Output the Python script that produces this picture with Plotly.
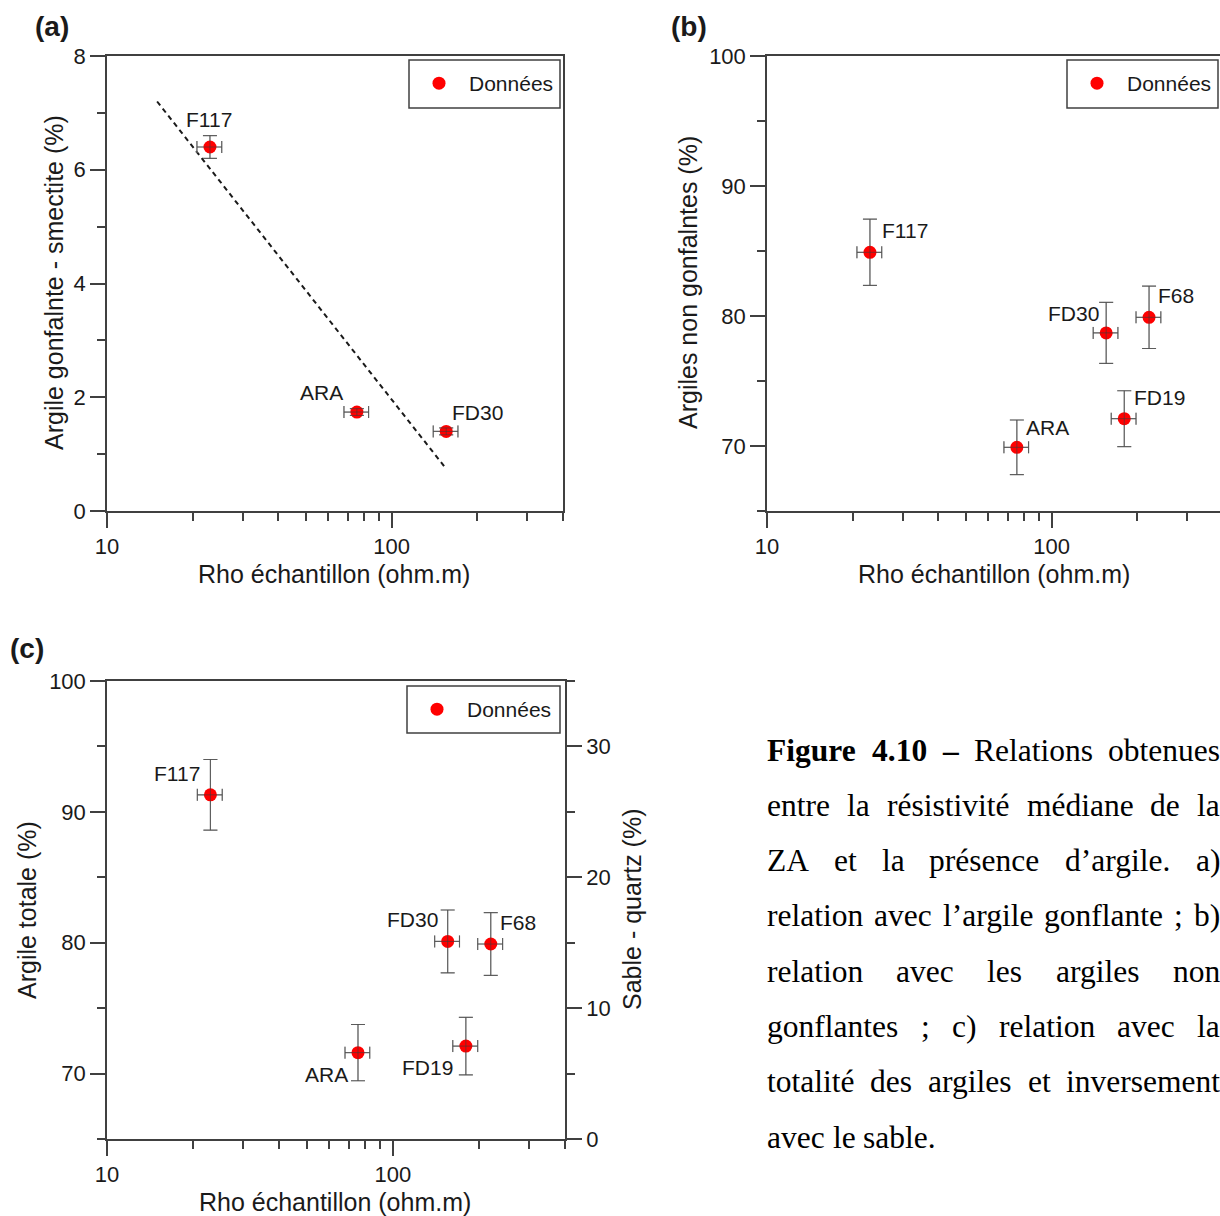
import numpy as np
import plotly.graph_objects as go

# ---------------- data ----------------
samples_a = ["F117", "ARA", "FD30"]
rho_a = [23.0, 75.5, 155.5]
rho_err_a = [2.3, 7.5, 15.5]
smectite = [6.4, 1.74, 1.4]
smectite_err = [0.2, 0.06, 0.06]
trend_rho = [15.0, 155.0]
trend_smectite = [7.2, 0.75]

samples_bc = ["F117", "ARA", "FD30", "F68", "FD19"]
rho_bc = [23.0, 75.5, 155.5, 220.0, 180.0]
rho_err_bc = [2.3, 7.5, 15.5, 22.0, 18.0]
non_swelling = [84.9, 69.9, 78.7, 79.9, 72.1]
non_swelling_err = [2.55, 2.1, 2.35, 2.4, 2.15]
total_clay = [91.3, 71.6, 80.1, 79.9, 72.1]
total_clay_err = [2.7, 2.15, 2.4, 2.4, 2.2]

x_major = [10, 100]
x_minor = [20, 30, 40, 50, 60, 70, 80, 90, 200, 300, 400]

caption_lines = [
    [("Figure", True), ("4.10", True), ("–", True), ("Relations", False), ("obtenues", False)],
    [(w, False) for w in "entre la résistivité médiane de la".split()],
    [(w, False) for w in "ZA et la présence d’argile. a)".split()],
    [(w, False) for w in "relation avec l’argile gonflante ; b)".split()],
    [(w, False) for w in "relation avec les argiles non".split()],
    [(w, False) for w in "gonflantes ; c) relation avec la".split()],
    [(w, False) for w in "totalité des argiles et inversement".split()],
    [(w, False) for w in "avec le sable.".split()],
]

# ---------------- style ----------------
W, H = 1220, 1216
SANS = "Liberation Sans, Arial, sans-serif"
SERIF = "Liberation Serif, Times New Roman, serif"
AX = "#404040"
TXT = "#1a1a1a"
ERR = "#8a8a8a"
RED = "#ff0000"


def px(x):
    return x / W


def py(y):
    return 1 - y / H


fig = go.Figure()


def add_points(xa, ya, x, y, xe, ye, legend, show):
    fig.add_trace(go.Scatter(
        x=x, y=y, mode="markers", name="Données", xaxis=xa, yaxis=ya,
        legend=legend, showlegend=show,
        marker=dict(color=RED, size=13),
        error_x=dict(type="data", array=xe, color=ERR, thickness=1.2, width=6),
        error_y=dict(type="data", array=ye, color=ERR, thickness=1.2, width=7),
    ))
    # error bars drawn again over the markers, as in the original
    fig.add_trace(go.Scatter(
        x=x, y=y, mode="markers", xaxis=xa, yaxis=ya, showlegend=False,
        hoverinfo="skip", marker=dict(color=RED, size=13, opacity=0),
        error_x=dict(type="data", array=xe, color="rgba(60,60,60,0.6)", thickness=1, width=6),
        error_y=dict(type="data", array=ye, color="rgba(60,60,60,0.6)", thickness=1, width=7),
    ))


# (a)
fig.add_trace(go.Scatter(x=trend_rho, y=trend_smectite, mode="lines", xaxis="x", yaxis="y",
                         showlegend=False, hoverinfo="skip",
                         line=dict(color="#1a1a1a", width=2, dash="5px,4px")))
add_points("x", "y", rho_a, smectite, rho_err_a, smectite_err, "legend", True)
# (b)
add_points("x2", "y2", rho_bc, non_swelling, rho_err_bc, non_swelling_err, "legend2", True)
# (c)
add_points("x3", "y3", rho_bc, total_clay, rho_err_bc, total_clay_err, "legend3", True)
fig.add_trace(go.Scatter(x=[], y=[], xaxis="x3", yaxis="y4", showlegend=False, hoverinfo="skip"))

tickfont = dict(family=SANS, size=22, color=TXT)


def xaxis(domain, rng, anchor):
    return dict(type="log", domain=domain, range=rng, anchor=anchor, automargin=False,
                showline=True, linecolor=AX, linewidth=1.5, mirror=True,
                showgrid=False, zeroline=False,
                ticks="outside", ticklen=15, tickwidth=1.5, tickcolor=AX,
                tickmode="array", tickvals=x_major, ticktext=[str(v) for v in x_major],
                minor=dict(tickmode="array", tickvals=x_minor, ticks="outside",
                           ticklen=8, tickwidth=1.5, tickcolor=AX),
                tickfont=tickfont)


def yaxis(domain, rng, anchor, major, minor, side="left", mirror=True, overlaying=None):
    d = dict(domain=domain, range=rng, anchor=anchor, side=side, automargin=False,
             showline=True, linecolor=AX, linewidth=1.5, mirror=mirror,
             showgrid=False, zeroline=False,
             ticks="outside", ticklen=15, tickwidth=1.5, tickcolor=AX,
             tickmode="array", tickvals=major, ticktext=[str(v) for v in major],
             minor=dict(tickmode="array", tickvals=minor, ticks="outside",
                        ticklen=8, tickwidth=1.5, tickcolor=AX),
             tickfont=tickfont)
    if overlaying:
        d["overlaying"] = overlaying
    return d


dom_top = [py(511), py(56)]
dom_bot = [py(1139), py(681)]

legend_common = dict(xanchor="left", yanchor="top", bgcolor="rgba(0,0,0,0)",
                     borderwidth=0, itemwidth=50,
                     font=dict(family=SANS, size=21, color=TXT))

# legend boxes (left, top, right, bottom) in px
legend_boxes = [(409, 60, 560, 108), (1067, 60, 1218, 108), (407, 686, 560, 733)]

fig.update_layout(
    width=W, height=H, margin=dict(l=0, r=0, t=0, b=0, autoexpand=False),
    paper_bgcolor="white", plot_bgcolor="white",
    xaxis=xaxis([px(107), px(563)], [1, np.log10(400)], "y"),
    yaxis=yaxis(dom_top, [0, 8], "x", [0, 2, 4, 6, 8], [1, 3, 5, 7]),
    xaxis2=xaxis([px(767), 1.0], [1, 1 + (1220 - 767) / 284.6], "y2"),
    yaxis2=yaxis(dom_top, [65, 100], "x2", [70, 80, 90, 100], [65, 75, 85, 95], mirror=False),
    xaxis3=xaxis([px(107), px(565)], [1, np.log10(400)], "y3"),
    yaxis3=yaxis(dom_bot, [65, 100], "x3", [70, 80, 90, 100], [65, 75, 85, 95]),
    yaxis4=yaxis(dom_bot, [0, 35], "x3", [0, 10, 20, 30], [5, 15, 25, 35],
                 side="right", mirror=False, overlaying="y3"),
    legend=dict(x=px(legend_boxes[0][0]), y=py(legend_boxes[0][1] + 3), **legend_common),
    legend2=dict(x=px(legend_boxes[1][0]), y=py(legend_boxes[1][1] + 3), **legend_common),
    legend3=dict(x=px(legend_boxes[2][0]), y=py(legend_boxes[2][1] + 3), **legend_common),
    shapes=[dict(type="rect", xref="paper", yref="paper", layer="above",
                 x0=px(l), x1=px(r), y0=py(b), y1=py(t),
                 line=dict(color=AX, width=1.5), fillcolor="white")
            for l, t, r, b in legend_boxes],
)

annotations = []

# point labels (offsets in px from the point)
lab_a = {"F117": (-1, 27), "ARA": (-35, 20), "FD30": (31, 19)}
lab_b = {"F117": (35, 22), "ARA": (31, 20), "FD30": (-33, 19), "F68": (27, 22), "FD19": (35, 21)}
lab_c = {"F117": (-33, 21), "ARA": (-31, -22), "FD30": (-35, 22), "F68": (27, 22), "FD19": (-38, -21)}


def add_labels(samples, xs, ys, offs, xref, yref):
    for s, x, y in zip(samples, xs, ys):
        dx, dy = offs[s]
        annotations.append(dict(x=np.log10(x), y=y, xref=xref, yref=yref, text=s,
                                showarrow=False, xshift=dx, yshift=dy,
                                font=dict(family=SANS, size=21, color=TXT)))


add_labels(samples_a, rho_a, smectite, lab_a, "x", "y")
add_labels(samples_bc, rho_bc, non_swelling, lab_b, "x2", "y2")
add_labels(samples_bc, rho_bc, total_clay, lab_c, "x3", "y3")


def txt(x, y, s, size=25, angle=0, bold=False, family=SANS):
    annotations.append(dict(x=px(x), y=py(y), xref="paper", yref="paper",
                            text=f"<b>{s}</b>" if bold else s, showarrow=False,
                            textangle=angle, xanchor="center", yanchor="middle",
                            font=dict(family=family, size=size, color=TXT)))


# axis titles
txt(334, 574, "Rho échantillon (ohm.m)")
txt(54, 283, "Argile gonfalnte - smectite (%)", angle=-90)
txt(994, 574, "Rho échantillon (ohm.m)")
txt(688, 283, "Argiles non gonfalntes (%)", angle=-90)
txt(335, 1202, "Rho échantillon (ohm.m)")
txt(27, 910, "Argile totale (%)", angle=-90)
txt(632, 910, "Sable - quartz (%)", angle=-90)

# panel letters
txt(52, 27, "(a)", size=28, bold=True)
txt(689, 27, "(b)", size=28, bold=True)
txt(27, 648, "(c)", size=28, bold=True)

# caption (justified, word by word)
TIMES = {' ': 250, 'a': 444, 'b': 500, 'c': 444, 'd': 500, 'e': 444, 'f': 333, 'g': 500,
         'h': 500, 'i': 278, 'j': 278, 'k': 500, 'l': 278, 'm': 778, 'n': 500, 'o': 500,
         'p': 500, 'q': 500, 'r': 333, 's': 389, 't': 278, 'u': 500, 'v': 500, 'w': 722,
         'x': 500, 'y': 500, 'z': 444, 'A': 722, 'F': 556, 'R': 667, 'Z': 611, 'é': 444,
         '’': 333, '(': 333, ')': 333, ';': 278, '.': 250, '–': 500, '0': 500, '1': 500,
         '4': 500}
TIMES_B = {'F': 611, 'i': 278, 'g': 500, 'u': 556, 'r': 444, 'e': 444, '4': 500,
           '.': 250, '1': 500, '0': 500, '–': 500}
CAP_SIZE = 31.5
CAP_X0, CAP_X1 = 765, 1218
CAP_Y0, CAP_DY = 750, 55.3


def word_w(w, bold):
    tab = TIMES_B if bold else TIMES
    return sum(tab.get(c, 500) for c in w) / 1000 * CAP_SIZE


for i, line in enumerate(caption_lines):
    y = CAP_Y0 + i * CAP_DY
    widths = [word_w(w, b) for w, b in line]
    last = i == len(caption_lines) - 1
    if last or len(line) == 1:
        gap = TIMES[' '] / 1000 * CAP_SIZE
    else:
        gap = (CAP_X1 - CAP_X0 - sum(widths)) / (len(line) - 1)
    x = CAP_X0
    for (w, b), ww in zip(line, widths):
        annotations.append(dict(x=px(x), y=py(y), xref="paper", yref="paper",
                                text=f"<b>{w}</b>" if b else w, showarrow=False,
                                xanchor="left", yanchor="middle",
                                font=dict(family=SERIF, size=CAP_SIZE, color="black")))
        x += ww + gap

fig.update_layout(annotations=annotations)
# place the 1220x1216 figure at the page's top-left corner (no body margin)
fig.write_html("out.html",
               config={"displayModeBar": False},
               post_script="document.body.style.margin='0px';"
                           "document.body.style.overflow='hidden';")
